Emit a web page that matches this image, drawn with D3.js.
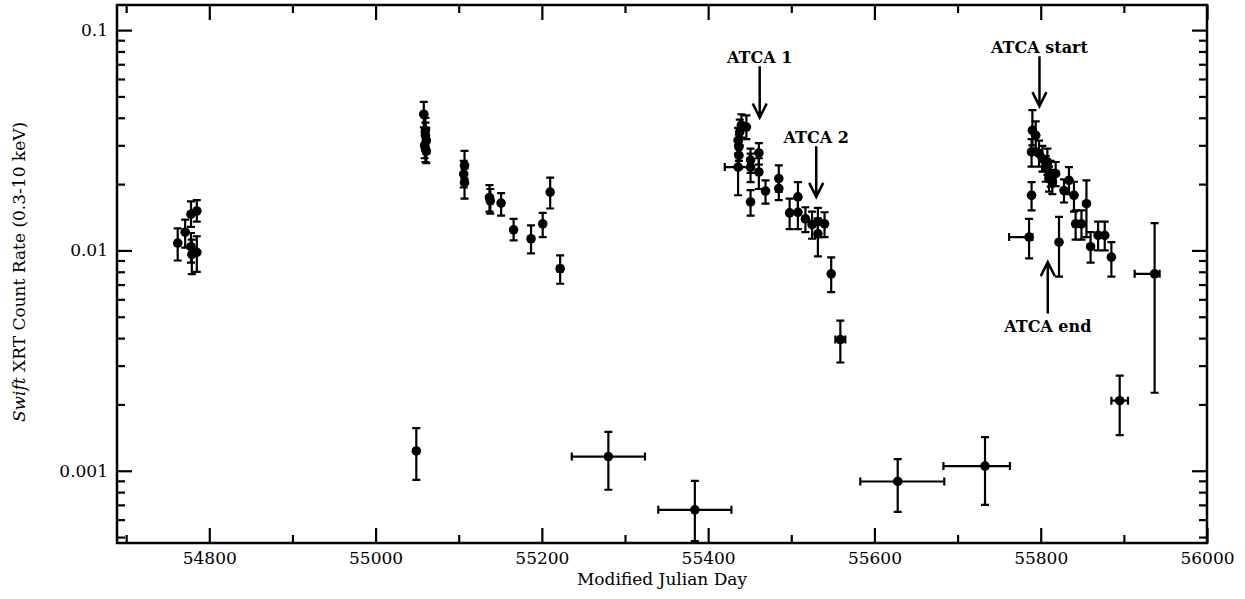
<!DOCTYPE html>
<html>
<head>
<meta charset="utf-8">
<script src="https://cdn.jsdelivr.net/npm/d3@7"></script>
<style>
  body { margin: 0; background: #fff; }
  text { font-family: "DejaVu Serif", serif; }
</style>
</head>
<body>
<div id="chart"></div>
<script>
// single pointings (x error too small to see)
const mjd = [54762, 54771, 54778, 54785, 54778, 54779, 54785,
  55049, 55058, 55060, 55060, 55061, 55059, 55060, 55061,
  55107, 55106, 55107, 55137, 55138, 55151, 55166, 55187, 55201, 55210,
  55437, 55437, 55436, 55438, 55440, 55446, 55451, 55451, 55451, 55461, 55461,
  55469, 55485, 55485, 55498, 55508, 55508, 55517, 55525, 55532, 55532, 55540, 55548,
  55789, 55790, 55794, 55789, 55798, 55802, 55808, 55806, 55812, 55814, 55818, 55810,
  55822, 55828, 55834, 55840, 55842, 55849, 55855, 55860, 55869, 55877, 55885];
const rate = [0.0108, 0.0121, 0.0146, 0.0151, 0.0104, 0.0096, 0.0098,
  0.00123, 0.0415, 0.0350, 0.0332, 0.0315, 0.0300, 0.0290, 0.0282,
  0.0243, 0.0222, 0.0203, 0.0174, 0.0168, 0.0164, 0.0124, 0.0113, 0.0132, 0.0184,
  0.0270, 0.0295, 0.0316, 0.0345, 0.0370, 0.0363, 0.0257, 0.0239, 0.0166, 0.0277, 0.0227,
  0.0186, 0.0212, 0.0191, 0.0148, 0.0175, 0.0149, 0.0139, 0.0131, 0.0135, 0.0119, 0.0132, 0.00783,
  0.0178, 0.0351, 0.0333, 0.0280, 0.0275, 0.0261, 0.0252, 0.0235, 0.0223, 0.0204, 0.0223, 0.0212,
  0.0109, 0.0187, 0.0208, 0.0178, 0.0132, 0.0132, 0.0163, 0.0104, 0.0117, 0.0117, 0.00932];
const rateLo = [0.0090, 0.0103, 0.0128, 0.0135, 0.0088, 0.0078, 0.0080,
  0.00091, 0.0362, 0.0305, 0.0290, 0.0275, 0.0262, 0.0252, 0.0249,
  0.0212, 0.0193, 0.0172, 0.0150, 0.0147, 0.0144, 0.0111, 0.0097, 0.0115, 0.0155,
  0.0235, 0.0255, 0.0275, 0.0300, 0.0325, 0.0320, 0.0225, 0.0204, 0.0144, 0.0245, 0.0190,
  0.0163, 0.0185, 0.0169, 0.0125, 0.0150, 0.0125, 0.0121, 0.0113, 0.0115, 0.0094, 0.0115, 0.00647,
  0.0152, 0.0300, 0.0290, 0.0240, 0.0240, 0.0228, 0.0220, 0.0205, 0.0195, 0.0180, 0.0196, 0.0185,
  0.0076, 0.0165, 0.0180, 0.0150, 0.0112, 0.0112, 0.0115, 0.0088, 0.0100, 0.0100, 0.0076];
const rateHi = [0.0126, 0.0138, 0.0167, 0.0169, 0.0120, 0.0112, 0.0116,
  0.00156, 0.0472, 0.0400, 0.0380, 0.0360, 0.0342, 0.0330, 0.0320,
  0.0283, 0.0255, 0.0235, 0.0198, 0.0190, 0.0182, 0.0139, 0.0130, 0.0148, 0.0214,
  0.0310, 0.0335, 0.0360, 0.0392, 0.0415, 0.0410, 0.0290, 0.0275, 0.0188, 0.0307, 0.0262,
  0.0208, 0.0243, 0.0215, 0.0172, 0.0204, 0.0172, 0.0157, 0.0150, 0.0156, 0.0140, 0.0149, 0.0093,
  0.0204, 0.0433, 0.0385, 0.0320, 0.0315, 0.0298, 0.0290, 0.0268, 0.0255, 0.0232, 0.0252, 0.0240,
  0.0142, 0.0210, 0.0239, 0.0205, 0.0152, 0.0152, 0.0208, 0.0121, 0.0135, 0.0135, 0.0109];

// binned points (with visible time range)
const binMjd   = [55222, 55280, 55384, 55436, 55559, 55628, 55733, 55786, 55895, 55937];
const binStart = [55219, 55236, 55340, 55420, 55553, 55583, 55683, 55762, 55885, 55913];
const binEnd   = [55225, 55324, 55428, 55452, 55565, 55684, 55763, 55790, 55905, 55943];
const binRate  = [0.00826, 0.00116, 0.000665, 0.0239, 0.00394, 0.000894, 0.00105, 0.0115, 0.00208, 0.00783];
const binLo    = [0.00706, 0.00082, 0.00048, 0.0178, 0.0031, 0.00065, 0.00070, 0.0092, 0.00145, 0.00226];
const binHi    = [0.0095, 0.0015, 0.0009, 0.0300, 0.0048, 0.00113, 0.00142, 0.0139, 0.0027, 0.0133];

// ATCA annotations: arrow from tail rate to tip rate
const annLabel = ["ATCA 1", "ATCA 2", "ATCA start", "ATCA end"];
const annMjd   = [55462, 55530, 55798.5, 55808.5];
const annTail  = [0.0686, 0.0297, 0.0761, 0.00517];
const annTip   = [0.0401, 0.0175, 0.0452, 0.00885];

const xMajor = [54800, 55000, 55200, 55400, 55600, 55800, 56000];
const xMinor = [54700, 54900, 55100, 55300, 55500, 55700, 55900];
const yMajor = [0.001, 0.01, 0.1];
const yMajorLabels = ["0.001", "0.01", "0.1"];

const width = 1245, height = 599;
const margin = {top: 5, right: 38, bottom: 56, left: 117};
const iw = width - margin.left - margin.right,
      ih = height - margin.top - margin.bottom;

const x = d3.scaleLinear().domain([54689, 56000]).range([0, iw]);
const y = d3.scaleLog().domain([0.00047, 0.13]).range([ih, 0]);

// minor log ticks 2..9 for each decade inside the domain
const yMinor = [];
[0.0001, 0.001, 0.01, 0.1].forEach(d => {
  for (let k = 2; k <= 9; k++) {
    const v = +(d * k).toPrecision(3);
    if (v > y.domain()[0] && v < y.domain()[1]) yMinor.push(v);
  }
});

const svg = d3.select("#chart").append("svg")
  .attr("width", width).attr("height", height);
const g = svg.append("g").attr("transform", `translate(${margin.left},${margin.top})`);

const tickStyle = sel => {
  sel.select(".domain").remove();
  sel.selectAll("line").attr("stroke", "#000").attr("stroke-width", 2.2);
  sel.selectAll("text").attr("font-size", "17px").attr("fill", "#000");
};

// axes, ticks pointing inward on all four sides
g.append("g").attr("transform", `translate(0,${ih})`)
  .call(d3.axisBottom(x).tickValues(xMajor).tickSize(-15).tickPadding(9).tickFormat(d3.format("d")))
  .call(tickStyle);
g.append("g").attr("transform", `translate(0,${ih})`)
  .call(d3.axisBottom(x).tickValues(xMinor).tickSize(-8).tickFormat(""))
  .call(tickStyle);
g.append("g")
  .call(d3.axisTop(x).tickValues(xMajor).tickSize(-15).tickFormat(""))
  .call(tickStyle);
g.append("g")
  .call(d3.axisTop(x).tickValues(xMinor).tickSize(-8).tickFormat(""))
  .call(tickStyle);

g.append("g")
  .call(d3.axisLeft(y).tickValues(yMajor).tickSize(-15).tickPadding(9)
    .tickFormat((d, i) => yMajorLabels[i]))
  .call(tickStyle);
g.append("g")
  .call(d3.axisLeft(y).tickValues(yMinor).tickSize(-8).tickFormat(""))
  .call(tickStyle);
g.append("g").attr("transform", `translate(${iw},0)`)
  .call(d3.axisRight(y).tickValues(yMajor).tickSize(-15).tickFormat(""))
  .call(tickStyle);
g.append("g").attr("transform", `translate(${iw},0)`)
  .call(d3.axisRight(y).tickValues(yMinor).tickSize(-8).tickFormat(""))
  .call(tickStyle);

g.append("rect")
  .attr("width", iw).attr("height", ih)
  .attr("fill", "none").attr("stroke", "#000").attr("stroke-width", 2.5);

// axis titles
svg.append("text")
  .attr("x", margin.left + iw / 2).attr("y", 585)
  .attr("text-anchor", "middle").attr("font-size", "17px")
  .text("Modified Julian Day");

const yt = svg.append("text")
  .attr("transform", "translate(25,272) rotate(-90)")
  .attr("text-anchor", "middle").attr("font-size", "17px");
yt.append("tspan").attr("font-style", "italic").text("Swift");
yt.append("tspan").text(" XRT Count Rate (0.3-10 keV)");

const cap = 4, r = 4.8;
const pts = mjd.map((m, i) => ({m, v: rate[i], lo: rateLo[i], hi: rateHi[i]}));
const bins = binMjd.map((m, i) => ({m, v: binRate[i], lo: binLo[i], hi: binHi[i],
  s: binStart[i], e: binEnd[i]}));
const all = pts.concat(bins);

const eb = g.append("g").attr("stroke", "#000").attr("stroke-width", 2.2).attr("fill", "none");

// vertical error bars with caps
eb.selectAll("path.v").data(all).join("path")
  .attr("class", "v")
  .attr("d", d => {
    const cx = x(d.m), y0 = y(d.lo), y1 = y(d.hi);
    return `M${cx},${y0}V${y1}M${cx - cap},${y0}H${cx + cap}M${cx - cap},${y1}H${cx + cap}`;
  });

// horizontal bars for binned points
eb.selectAll("path.h").data(bins).join("path")
  .attr("class", "h")
  .attr("d", d => {
    const cy = y(d.v), x0 = x(d.s), x1 = x(d.e);
    return `M${x0},${cy}H${x1}M${x0},${cy - cap}V${cy + cap}M${x1},${cy - cap}V${cy + cap}`;
  });

g.append("g").selectAll("circle").data(all).join("circle")
  .attr("cx", d => x(d.m)).attr("cy", d => y(d.v)).attr("r", r)
  .attr("fill", "#000");

// annotation arrows
const ann = annLabel.map((t, i) => ({t, m: annMjd[i], tail: annTail[i], tip: annTip[i]}));
const ag = g.append("g");
ag.selectAll("path").data(ann).join("path")
  .attr("fill", "none").attr("stroke", "#000").attr("stroke-width", 2.5)
  .attr("d", d => {
    const ax = x(d.m), t0 = y(d.tail), t1 = y(d.tip);
    const dir = t1 > t0 ? 1 : -1;
    return `M${ax},${t0}V${t1}M${ax - 7},${t1 - dir * 14}L${ax},${t1}L${ax + 7},${t1 - dir * 14}`;
  });
ag.selectAll("text").data(ann).join("text")
  .attr("x", d => x(d.m))
  .attr("y", d => y(d.tip) > y(d.tail) ? y(d.tail) - 3 : y(d.tail) + 18)
  .attr("text-anchor", "middle")
  .attr("font-size", "16px").attr("font-weight", "bold")
  .text(d => d.t);
</script>
</body>
</html>
